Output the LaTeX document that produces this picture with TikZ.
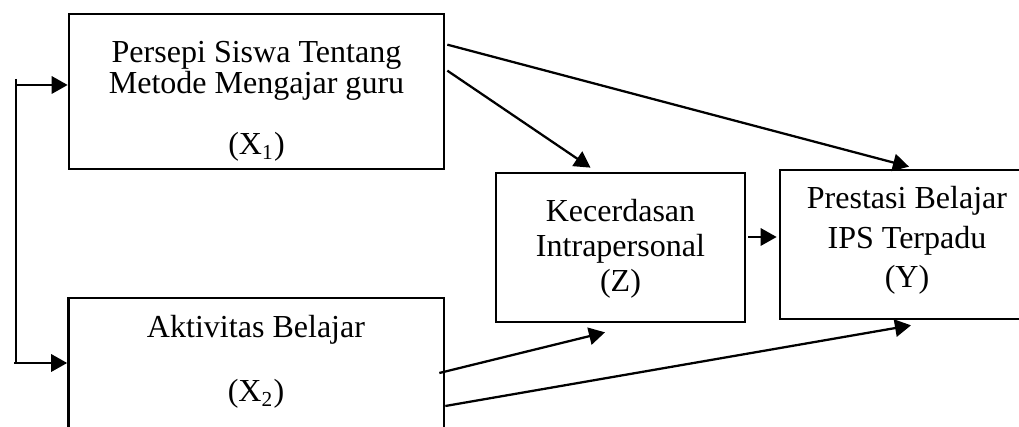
\documentclass[tikz,border=0pt]{standalone}
\usepackage{fontspec}
\setmainfont{Liberation Serif}
\usetikzlibrary{arrows.meta,calc}
\begin{document}
\begin{tikzpicture}[x=0.3745pt,y=-0.3745pt,
  box/.style n args={2}{draw,line width=1pt,minimum width=#1*0.3745pt,minimum height=#2*0.3745pt,inner sep=0pt},
  txt/.style={font=\fontsize{12}{14}\selectfont,inner sep=0pt,anchor=base},
  arr/.style={-{Triangle[length=6pt,width=6.5pt]},line width=0.85pt},
  bus/.style={line width=0.55pt}]
\clip (0,0) rectangle (1019,427);
% boxes
\node[box={375}{155}] (x1) at (256.5,91.5) {};
\node[box={375.5}{172}] (x2) at (256.25,384) {};
\node[box={249}{149}] (z) at (620.5,247.5) {};
\node[box={254}{149}] (y) at (907,244.5) {};
% texts
\node[txt] (x1a) at (256.5,63) {Persepi Siswa Tentang};
\node[txt] (x1b) at (256.5,94) {Metode Mengajar guru};
\node[txt] (x1c) at (256.5,155) {(X\textsubscript{1})};
\node[txt] (x2a) at (256,338) {Aktivitas Belajar};
\node[txt] (x2b) at (256,402) {(X\textsubscript{2})};
\node[txt] (za) at (620.5,222) {Kecerdasan};
\node[txt] (zb) at (620.5,257) {Intrapersonal};
\node[txt] (zc) at (620.5,292) {(Z)};
\node[txt] (ya) at (907,209) {Prestasi Belajar};
\node[txt] (yb) at (907,249) {IPS Terpadu};
\node[txt] (yc) at (907,288) {(Y)};
% bus
\coordinate (b1) at (16,79);
\coordinate (b2) at (16,363.5);
\coordinate (b1h) at (16,85);
\coordinate (b2s) at (14,363);
\draw[bus] (b1) -- (b2);
\draw[arr] (b1h) -- (b1h -| x1.west);
\draw[arr] (b2s) -- (b2s -| x2.west);
% arrows
\draw[arr] ($(x1.north east)+(2,32)$) -- ($(y.north)+(2,-2)$);
\draw[arr] ($(x1.north east)+(2,58)$) -- ($(z.north)+(-30,-4)$);
\draw[arr] ($(z.east)+(2,-10.5)$) -- ($(y.west)+(-2,-7.5)$);
\draw[arr] ($(x2.east)+(-6,-11)$) -- ($(z.south)+(-15.5,9)$);
\draw[arr] ($(x2.east)+(0,22)$) -- ($(y.south)+(4,5)$);
\end{tikzpicture}
\end{document}
